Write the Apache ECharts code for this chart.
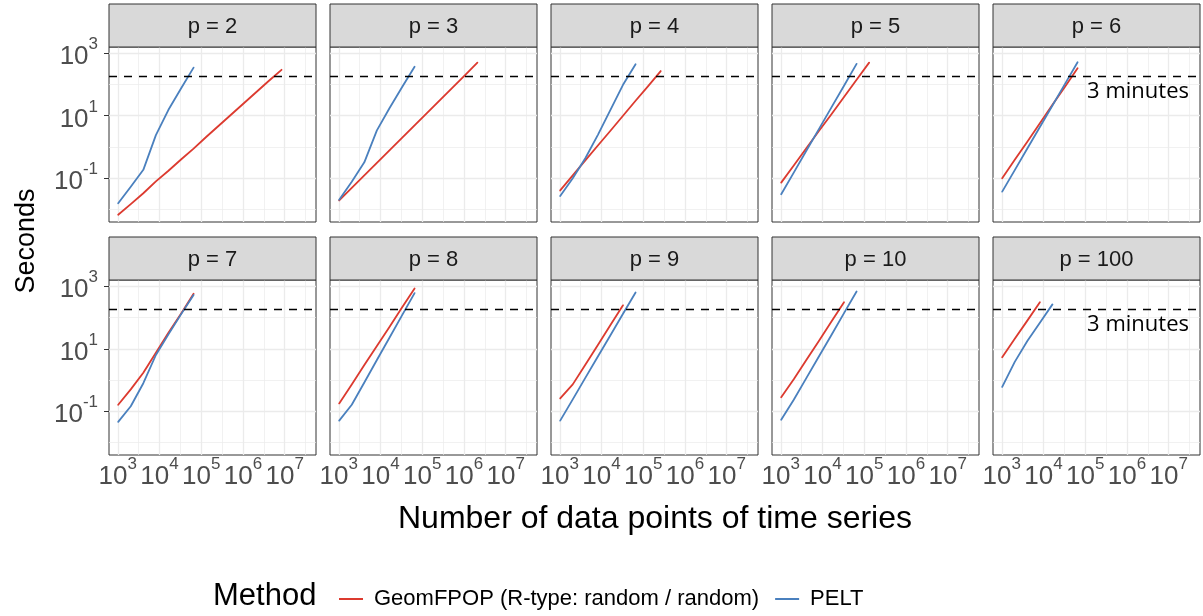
<!DOCTYPE html>
<html>
<head>
<meta charset="utf-8">
<script src="https://cdn.jsdelivr.net/npm/echarts@6/dist/echarts.min.js"></script>
<style>
  html, body { margin: 0; padding: 0; background: #fff; }
  #chart { width: 1203px; height: 616px; }
</style>
</head>
<body>
<div id="chart"></div>
<script>
// time series sizes n = 2^10 ... 2^23
var nPoints = [1024, 2048, 4096, 8192, 16384, 32768, 65536, 131072, 262144, 524288, 1048576, 2097152, 4194304, 8388608]
var panelNames = ['p = 2', 'p = 3', 'p = 4', 'p = 5', 'p = 6', 'p = 7', 'p = 8', 'p = 9', 'p = 10', 'p = 100']

// seconds, GeomFPOP (R-type: random / random)
var geomP2 = [0.0068, 0.0148, 0.0331, 0.0794, 0.174, 0.398, 0.891, 2.09, 4.79, 11.0, 25.1, 57.5, 132, 295]
var geomP3 = [0.0195, 0.049, 0.123, 0.309, 0.776, 1.95, 4.90, 12.3, 30.9, 77.6, 195, 501]
var geomP4 = [0.0407, 0.123, 0.372, 1.12, 3.31, 10.0, 30.2, 89.1, 269]
var geomP5 = [0.0724, 0.257, 0.912, 3.24, 11.2, 39.8, 141, 501]
var geomP6 = [0.100, 0.389, 1.48, 5.75, 22.4, 85.1, 331]
var geomP7 = [0.162, 0.501, 1.70, 7.41, 32.4, 132, 575]
var geomP8 = [0.178, 0.724, 3.02, 12.3, 50.1, 209, 851]
var geomP9 = [0.257, 0.724, 3.09, 13.2, 57.5, 245]
var geomP10 = [0.282, 1.05, 4.37, 17.8, 74.1, 309]
var geomP100 = [5.37, 20.9, 79.4, 309]

// seconds, PELT
var peltP2 = [0.0158, 0.0537, 0.186, 2.40, 15.5, 74.1, 347]
var peltP3 = [0.0204, 0.0776, 0.324, 3.39, 17.4, 81.3, 372]
var peltP4 = [0.0269, 0.100, 0.437, 2.45, 15.5, 97.7, 447]
var peltP5 = [0.0309, 0.151, 0.759, 3.72, 18.6, 91.2, 457]
var peltP6 = [0.0372, 0.182, 0.891, 4.37, 21.4, 105, 513]
var peltP7 = [0.0457, 0.145, 0.79, 6.31, 28.8, 126, 525]
var peltP8 = [0.0501, 0.162, 0.832, 4.37, 22.4, 117, 603]
var peltP9 = [0.0501, 0.240, 1.17, 5.62, 26.9, 132, 631]
var peltP10 = [0.0537, 0.234, 1.15, 5.62, 27.5, 138, 676]
var peltP100 = [0.603, 3.80, 17.8, 67.6, 263]

var geomRuns = [geomP2, geomP3, geomP4, geomP5, geomP6, geomP7, geomP8, geomP9, geomP10, geomP100]
var peltRuns = [peltP2, peltP3, peltP4, peltP5, peltP6, peltP7, peltP8, peltP9, peltP10, peltP100]

var limitSeconds = 180
var limitLabel = '3 minutes'

// log10 tick exponents
var xTicks = [3, 4, 5, 6, 7]
var yTicks = [-1, 1, 3]
var xGridLines = [3, 3.5, 4, 4.5, 5, 5.5, 6, 6.5, 7, 7.5]
var yGridLines = [-2, -1, 0, 1, 2, 3]

var GEOM = 'GeomFPOP (R-type: random / random)'
var PELT = 'PELT'
var RED = '#dc3a2f'
var BLUE = '#4a80be'
var FONT = 'Liberation Sans, Arial, sans-serif'

var cols = [109, 330, 551, 772, 993]
var rows = [47, 280]
var W = 207, H = 175

var powRich = {
  b: { fontSize: 26, lineHeight: 34, verticalAlign: 'bottom', color: '#4d4d4d', fontFamily: FONT },
  s: { fontSize: 17, lineHeight: 17, verticalAlign: 'top', color: '#4d4d4d', fontFamily: FONT }
}
function powLabel(v) {
  return '{b|10}{s|' + Math.round(v) + '}'
}
function toLog(xs, ys) {
  return ys.map(function (y, j) { return [Math.log10(xs[j]), Math.log10(y)] })
}

var chart = echarts.init(document.getElementById('chart'))
var grids = [], xAxes = [], yAxes = [], series = [], graphics = []

panelNames.forEach(function (name, i) {
  var col = i % 5, row = Math.floor(i / 5)
  grids.push({
    left: cols[col], top: rows[row], width: W, height: H,
    show: true, borderColor: '#333', borderWidth: 1, backgroundColor: '#fff'
  })
  xAxes.push({
    type: 'value', gridIndex: i, min: 2.79, max: 7.75,
    axisLine: { show: false },
    splitLine: { show: false },
    axisTick: { show: row === 1, customValues: xTicks, length: 5, lineStyle: { color: '#333' } },
    axisLabel: { show: row === 1, customValues: xTicks, margin: 1, formatter: powLabel, rich: powRich }
  })
  yAxes.push({
    type: 'value', gridIndex: i, min: -2.4, max: 3.2,
    axisLine: { show: false },
    splitLine: { show: false },
    axisTick: { show: col === 0, customValues: yTicks, length: 5, lineStyle: { color: '#333' } },
    axisLabel: { show: col === 0, customValues: yTicks, margin: 11, formatter: powLabel, rich: powRich }
  })

  // panel grid lines, kept underneath the data
  var gl = []
  xGridLines.forEach(function (v) {
    gl.push({ xAxis: v, lineStyle: { width: v % 1 === 0 ? 1.3 : 0.7 } })
  })
  yGridLines.forEach(function (v) {
    gl.push({ yAxis: v, lineStyle: { width: Math.abs(v) % 2 === 1 ? 1.3 : 0.7 } })
  })
  series.push({
    type: 'line', name: 'grid' + i, xAxisIndex: i, yAxisIndex: i, data: [], z: 1,
    markLine: {
      z: 1, silent: true, symbol: ['none', 'none'], animation: false,
      label: { show: false },
      lineStyle: { color: '#ebebeb', type: 'solid' },
      data: gl
    }
  })

  var g = geomRuns[i], p = peltRuns[i]
  series.push({
    type: 'line', name: GEOM, xAxisIndex: i, yAxisIndex: i, z: 6,
    data: toLog(nPoints, g), symbol: 'none',
    itemStyle: { color: RED }, lineStyle: { color: RED, width: 1.8, join: 'round', cap: 'round' }
  })
  series.push({
    type: 'line', name: PELT, xAxisIndex: i, yAxisIndex: i, z: 6,
    data: toLog(nPoints, p), symbol: 'none',
    itemStyle: { color: BLUE }, lineStyle: { color: BLUE, width: 1.8, join: 'round', cap: 'round' }
  })
  series.push({
    type: 'line', name: 'limit' + i, xAxisIndex: i, yAxisIndex: i, data: [], z: 7,
    markLine: {
      z: 7, silent: true, symbol: ['none', 'none'], animation: false,
      lineStyle: { color: '#000', type: [8, 7], width: 1.4 },
      label: {
        show: col === 4, position: 'insideEndBottom', formatter: limitLabel,
        fontFamily: 'Open Sans', fontSize: 22, color: '#000', distance: 3,
        padding: [1, 8, 0, 0]
      },
      data: [{ yAxis: Math.log10(limitSeconds) }]
    }
  })

  // facet strip
  var sy = row === 0 ? 4 : 237
  graphics.push({
    type: 'rect', shape: { x: cols[col], y: sy, width: W, height: rows[row] - sy },
    style: { fill: '#d9d9d9', stroke: '#333', lineWidth: 1 }, z: 10
  })
  graphics.push({
    type: 'text', x: cols[col] + W / 2, y: sy + (rows[row] - sy) / 2 + 1, z: 11,
    style: { text: name, align: 'center', verticalAlign: 'middle', fontSize: 22, fill: '#1a1a1a', fontFamily: FONT }
  })
})

graphics.push({
  type: 'text', x: 27, y: 241, rotation: Math.PI / 2,
  style: { text: 'Seconds', align: 'center', verticalAlign: 'middle', fontSize: 27, fill: '#000', fontFamily: FONT }
})
graphics.push({
  type: 'text', x: 655, y: 519,
  style: { text: 'Number of data points of time series', align: 'center', verticalAlign: 'middle', fontSize: 32, fill: '#000', fontFamily: FONT }
})
graphics.push({
  type: 'text', x: 213, y: 596,
  style: { text: 'Method', align: 'left', verticalAlign: 'middle', fontSize: 31, fill: '#000', fontFamily: FONT }
})

chart.setOption({
  animation: false,
  grid: grids,
  xAxis: xAxes,
  yAxis: yAxes,
  series: series,
  graphic: graphics,
  legend: {
    data: [GEOM, PELT],
    left: 334, top: 583,
    icon: 'rect', itemWidth: 24, itemHeight: 2, itemGap: 16,
    textStyle: { fontSize: 22, color: '#000', fontFamily: FONT, padding: [0, 0, 0, 6] }
  }
})
</script>
</body>
</html>
